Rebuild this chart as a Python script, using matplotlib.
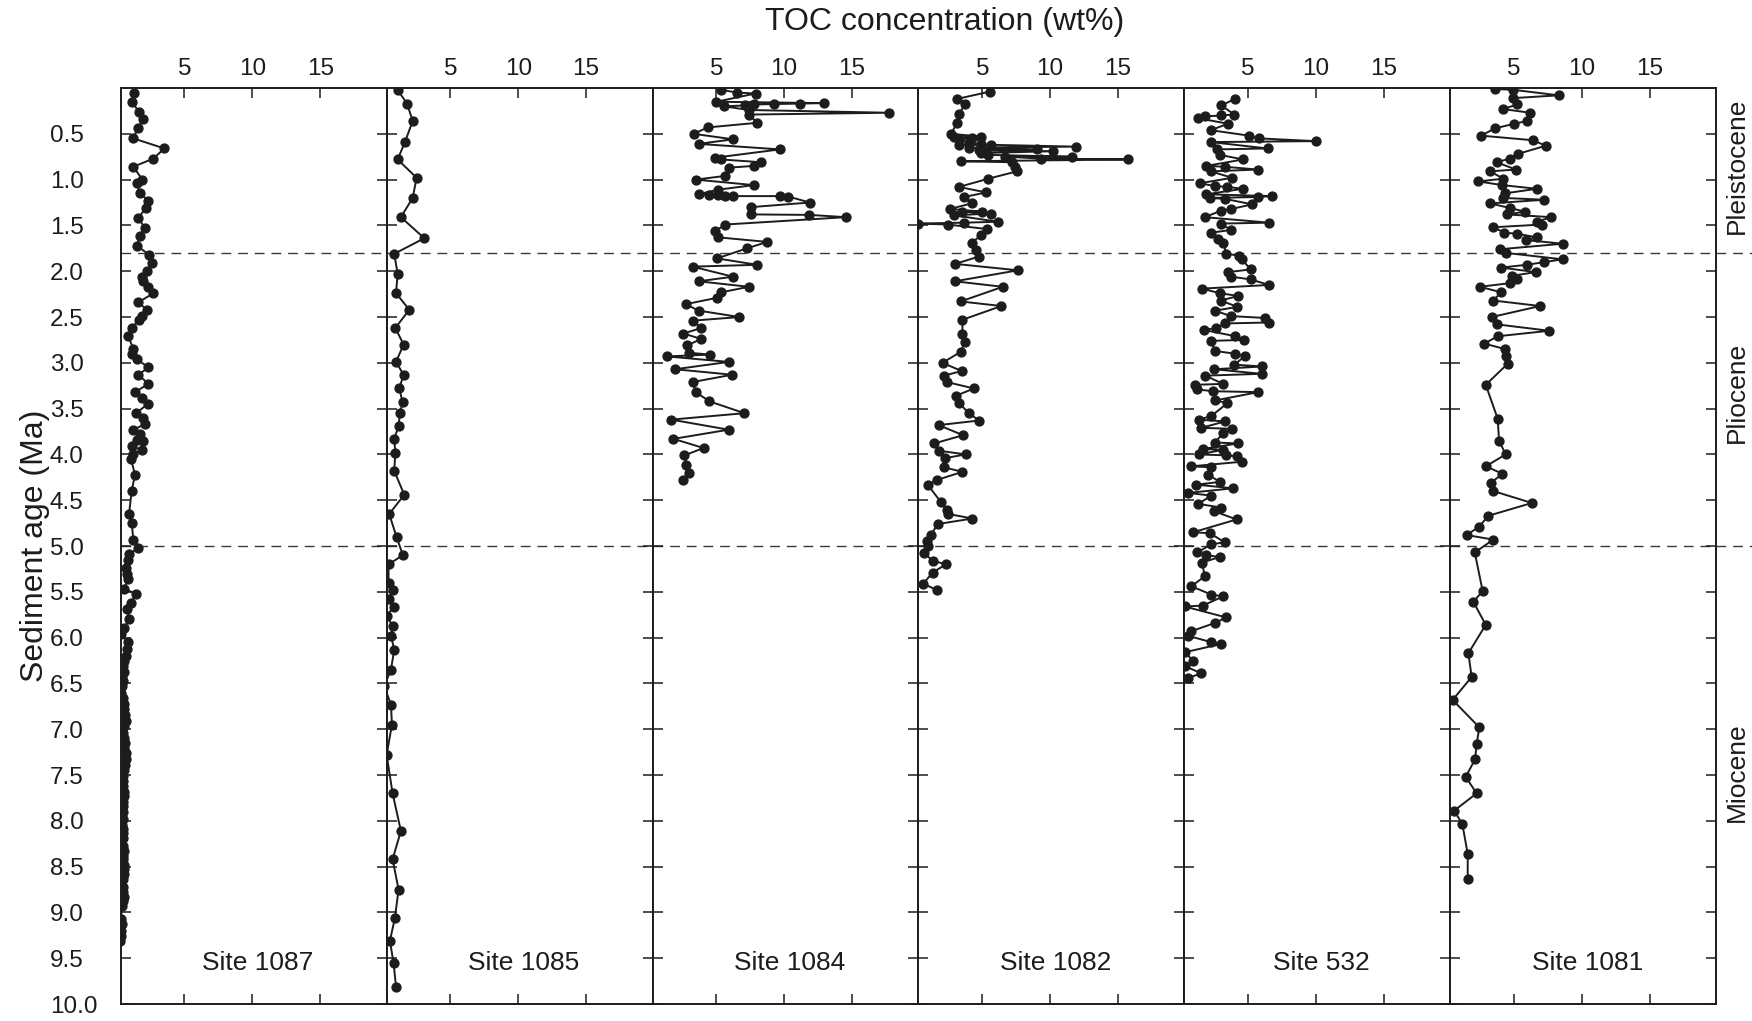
import matplotlib

matplotlib.use("Agg")
import matplotlib.pyplot as plt
import matplotlib.transforms as mtransforms
import numpy as np

plt.rcParams["font.family"] = ["Liberation Sans", "DejaVu Sans"]

# --- data: age (Ma) vs TOC (wt%) per site ---
sites = ["Site 1087", "Site 1085", "Site 1084", "Site 1082", "Site 532", "Site 1081"]

age_1087 = [0.05, 0.15, 0.26, 0.34, 0.44, 0.55, 0.66, 0.77, 0.86, 1.00,
            1.04, 1.15, 1.23, 1.31, 1.42, 1.53, 1.62, 1.72, 1.82, 1.91,
            2.00, 2.06, 2.11, 2.17, 2.24, 2.34, 2.42, 2.49, 2.53, 2.62,
            2.71, 2.85, 2.90, 2.96, 3.05, 3.13, 3.23, 3.32, 3.38, 3.45,
            3.55, 3.60, 3.67, 3.73, 3.78, 3.84, 3.85, 3.91, 3.95, 4.00,
            4.05, 4.22, 4.40, 4.65, 4.75, 4.93, 5.02, 5.09, 5.15, 5.24,
            5.30, 5.36, 5.47, 5.52, 5.62, 5.69, 5.80, 5.89, 5.96, 6.05,
            6.12,
            6.20, 6.26, 6.31, 6.37, 6.43, 6.47, 6.53, 6.60, 6.66, 6.72,
            6.78, 6.84, 6.91, 6.97, 7.04, 7.10, 7.15, 7.20, 7.26, 7.33,
            7.39, 7.45, 7.51, 7.57, 7.62, 7.68, 7.73, 7.79, 7.84, 7.90,
            7.98, 8.04, 8.09, 8.13, 8.19, 8.27, 8.33, 8.38, 8.42, 8.48,
            8.53, 8.58, 8.64, 8.72, 8.78, 8.83, 8.87, 8.93, 9.07, 9.13,
            9.20, 9.26, 9.31]
toc_1087 = [1.31, 1.11, 1.65, 1.97, 1.55, 1.23, 3.52, 2.71, 1.23, 1.90,
            1.48, 1.72, 2.34, 2.14, 1.60, 2.09, 1.72, 1.48, 2.39, 2.59,
            2.22, 1.90, 1.97, 2.29, 2.71, 1.60, 2.22, 1.85, 1.65, 1.11,
            0.86, 1.23, 1.11, 1.48, 2.34, 1.60, 2.34, 1.35, 1.85, 2.29,
            1.43, 1.97, 2.09, 1.23, 1.72, 1.48, 1.97, 1.11, 1.85, 1.23,
            1.06, 1.35, 1.11, 0.91, 1.11, 1.23, 1.60, 0.94, 0.81, 0.69,
            0.75, 0.81, 0.57, 1.43, 1.06, 0.76, 0.94, 0.57, 0.32, 0.81,
            0.75,
            0.69, 0.57, 0.45, 0.52, 0.40, 0.45, 0.36, 0.32, 0.45, 0.52,
            0.57, 0.62, 0.69, 0.57, 0.45, 0.52, 0.62, 0.57, 0.66, 0.69,
            0.62, 0.57, 0.50, 0.45, 0.45, 0.52, 0.57, 0.50, 0.45, 0.48,
            0.45, 0.42, 0.48, 0.45, 0.50, 0.45, 0.52, 0.48, 0.45, 0.52,
            0.57, 0.57, 0.50, 0.45, 0.48, 0.52, 0.45, 0.40, 0.32, 0.36,
            0.32, 0.30, 0.27]

age_1085 = [0.02, 0.17, 0.36, 0.59, 0.78, 0.98, 1.20, 1.41, 1.64, 1.81,
            2.03, 2.24, 2.42, 2.62, 2.80, 2.99, 3.13, 3.28, 3.43, 3.55,
            3.69, 3.83, 3.98, 4.18, 4.44, 4.65, 4.90, 5.10, 5.20, 5.40,
            5.48, 5.58, 5.67, 5.76, 5.87, 5.98, 6.13, 6.35, 6.53, 6.73,
            6.95, 7.28, 7.70, 8.11, 8.42, 8.75, 9.06, 9.31, 9.55, 9.81]
toc_1085 = [1.11, 1.80, 2.22, 1.65, 1.11, 2.51, 2.22, 1.35, 3.08, 0.86,
            1.11, 0.99, 1.97, 0.94, 1.55, 0.99, 1.55, 1.23, 1.48, 1.28,
            1.18, 0.86, 0.94, 0.86, 1.60, 0.49, 1.03, 1.50, 0.44, 0.44,
            0.74, 0.44, 0.81, 0.30, 0.74, 0.62, 0.86, 0.62, 0.12, 0.62,
            0.69, 0.30, 0.74, 1.35, 0.74, 1.18, 0.91, 0.54, 0.81, 0.99]

age_1084 = [0.02, 0.05, 0.06, 0.15, 0.165, 0.17, 0.175, 0.18, 0.19, 0.20,
            0.24, 0.27, 0.29, 0.38, 0.43, 0.50, 0.56, 0.61, 0.67, 0.76,
            0.78, 0.81, 0.85, 0.87, 0.96, 1.00, 1.06, 1.11, 1.16, 1.165,
            1.17, 1.175, 1.18, 1.18, 1.185, 1.25, 1.30, 1.38, 1.385, 1.41,
            1.49, 1.56, 1.63, 1.68, 1.75, 1.86, 1.93, 1.95, 2.06, 2.11,
            2.17, 2.23, 2.29, 2.36, 2.43, 2.50, 2.54, 2.62, 2.68, 2.74,
            2.81, 2.89, 2.91, 2.93, 2.99, 3.07, 3.13, 3.21, 3.32, 3.42,
            3.55, 3.62, 3.73, 3.83, 3.93, 4.01, 4.11, 4.20, 4.28]
toc_1084 = [5.37, 6.53, 7.89, 5.00, 12.95, 11.17, 9.25, 7.81, 7.15, 5.59,
            7.40, 17.69, 7.40, 8.01, 4.38, 3.32, 6.23, 3.69, 9.69, 4.93,
            5.37, 8.26, 7.77, 5.91, 5.62, 3.49, 7.77, 5.12, 3.69, 4.43,
            5.12, 5.67, 6.21, 9.67, 10.31, 11.89, 7.59, 7.59, 11.84, 14.56,
            5.67, 4.93, 5.12, 8.75, 7.27, 5.05, 8.01, 3.25, 6.23, 3.69,
            7.40, 5.37, 5.05, 2.75, 3.69, 6.70, 3.25, 3.89, 2.58, 3.89,
            2.83, 2.95, 4.56, 1.35, 5.91, 1.96, 6.16, 3.25, 3.49, 4.48,
            7.07, 1.67, 5.91, 1.84, 4.06, 2.65, 2.78, 2.95, 2.51]

age_1082 = [0.04, 0.12, 0.18, 0.28, 0.38, 0.50, 0.53, 0.54, 0.55, 0.56,
            0.60, 0.61, 0.62, 0.62, 0.64, 0.65, 0.67, 0.68, 0.69, 0.71,
            0.73, 0.75, 0.75, 0.77, 0.78, 0.80, 0.81, 0.86, 0.91, 0.99,
            1.08, 1.14, 1.19, 1.26, 1.32, 1.35, 1.35, 1.37, 1.39, 1.46,
            1.47, 1.48, 1.49, 1.54, 1.61, 1.69, 1.77, 1.84, 1.92, 1.99,
            2.11, 2.17, 2.33, 2.38, 2.53, 2.68, 2.77, 2.88, 3.00, 3.09,
            3.14, 3.21, 3.28, 3.36, 3.44, 3.55, 3.63, 3.68, 3.79, 3.88,
            3.96, 4.00, 4.04, 4.14, 4.19, 4.28, 4.33, 4.52, 4.61, 4.65,
            4.70, 4.76, 4.88, 4.94, 5.00, 5.08, 5.16, 5.20, 5.29, 5.41,
            5.48]
toc_1082 = [5.54, 3.12, 3.73, 3.29, 3.17, 2.68, 4.88, 2.93, 4.22, 3.29,
            4.02, 4.88, 3.29, 5.61, 11.90, 4.02, 9.02, 4.76, 10.24, 4.88,
            5.44, 11.59, 6.71, 9.34, 15.73, 3.41, 7.20, 7.44, 7.56, 5.44,
            3.29, 5.29, 3.66, 4.22, 2.61, 5.00, 3.54, 5.61, 2.93, 6.17,
            3.66, 0.24, 2.44, 5.37, 4.88, 4.22, 4.51, 4.76, 3.00, 7.63,
            2.98, 6.51, 3.41, 6.41, 3.54, 3.54, 3.73, 3.41, 2.07, 3.49,
            2.15, 2.39, 4.39, 3.05, 3.29, 4.02, 4.76, 1.78, 3.59, 1.46,
            1.83, 3.78, 2.27, 2.15, 3.54, 1.63, 0.98, 1.95, 2.39, 2.51,
            4.27, 1.71, 1.22, 0.90, 0.98, 0.73, 1.34, 2.32, 1.34, 0.66,
            1.63]

age_532 = [0.12, 0.19, 0.29, 0.30, 0.31, 0.33, 0.39, 0.46, 0.52, 0.55,
           0.58, 0.59, 0.66, 0.67, 0.73, 0.78, 0.85, 0.86, 0.89, 0.91,
           0.98, 1.04, 1.07, 1.08, 1.10, 1.16, 1.18, 1.19, 1.20, 1.21,
           1.27, 1.32, 1.34, 1.41, 1.47, 1.48, 1.55, 1.58, 1.65, 1.69,
           1.81, 1.83, 1.87, 1.98, 2.01, 2.06, 2.09, 2.15, 2.19, 2.24,
           2.27, 2.32, 2.39, 2.43, 2.49, 2.51, 2.56, 2.57, 2.62, 2.64,
           2.71, 2.75, 2.76, 2.87, 2.90, 2.93, 3.02, 3.04, 3.07, 3.12,
           3.14, 3.23, 3.24, 3.29, 3.31, 3.32, 3.41, 3.44, 3.58, 3.62,
           3.64, 3.71, 3.72, 3.77, 3.87, 3.88, 3.94, 3.95, 4.00, 4.01,
           4.02, 4.08, 4.13, 4.14, 4.22, 4.30, 4.33, 4.37, 4.42, 4.45,
           4.54, 4.58, 4.62, 4.71, 4.85, 4.86, 4.96, 4.98, 5.07, 5.10,
           5.12, 5.18, 5.33, 5.44, 5.53, 5.55, 5.65, 5.66, 5.78, 5.84,
           5.93, 5.98, 6.05, 6.07, 6.16, 6.25, 6.31, 6.39, 6.44]
toc_532 = [4.01, 3.03, 3.97, 2.98, 1.85, 1.31, 3.52, 2.24, 5.05, 5.79,
           9.98, 2.24, 6.43, 2.73, 2.91, 4.63, 1.92, 3.28, 5.69, 2.24,
           3.82, 1.43, 2.54, 3.47, 4.63, 1.92, 6.72, 5.74, 2.17, 3.28,
           5.30, 3.77, 2.98, 1.80, 6.53, 2.98, 3.72, 2.24, 2.78, 3.15,
           3.40, 4.31, 4.51, 5.20, 3.52, 3.77, 5.20, 6.53, 1.60, 2.91,
           4.26, 2.98, 4.21, 2.54, 3.72, 6.23, 6.53, 3.28, 2.66, 1.72,
           4.06, 4.70, 2.29, 2.54, 4.01, 4.75, 3.97, 6.04, 2.49, 5.99,
           1.85, 3.15, 1.06, 1.23, 2.41, 5.74, 2.59, 3.47, 2.29, 1.38,
           3.28, 1.55, 3.82, 3.15, 2.54, 4.26, 1.67, 3.15, 1.35, 3.40,
           4.14, 4.51, 0.81, 2.29, 2.04, 2.91, 1.18, 3.89, 0.57, 2.29,
           1.31, 3.03, 2.49, 4.14, 0.94, 2.17, 3.28, 2.29, 1.26, 1.92,
           2.91, 1.60, 1.80, 0.81, 2.29, 3.15, 1.67, 0.32, 3.40, 2.54,
           0.81, 0.57, 2.29, 2.98, 0.32, 0.94, 0.32, 1.55, 0.57]

age_1081 = [0.01, 0.02, 0.08, 0.11, 0.18, 0.23, 0.27, 0.36, 0.39, 0.44,
            0.52, 0.57, 0.63, 0.72, 0.77, 0.81, 0.89, 0.91, 0.99, 1.02,
            1.06, 1.10, 1.15, 1.20, 1.22, 1.26, 1.31, 1.35, 1.38, 1.41,
            1.46, 1.49, 1.52, 1.58, 1.59, 1.63, 1.66, 1.70, 1.76, 1.80,
            1.87, 1.90, 1.93, 1.96, 2.01, 2.05, 2.09, 2.13, 2.17, 2.23,
            2.32, 2.38, 2.50, 2.58, 2.65, 2.71, 2.79, 2.85, 2.93, 3.01,
            3.24, 3.61, 3.85, 4.00, 4.13, 4.21, 4.31, 4.40, 4.53, 4.67,
            4.79, 4.88, 4.93, 5.07, 5.49, 5.61, 5.86, 6.17, 6.43, 6.68,
            6.98, 7.16, 7.33, 7.52, 7.70, 7.89, 8.03, 8.36, 8.63]
toc_1081 = [3.60, 4.95, 8.28, 4.95, 5.20, 4.21, 6.18, 5.94, 5.02, 3.60,
            2.56, 6.38, 7.34, 5.27, 4.70, 3.72, 5.12, 3.23, 4.21, 2.36,
            4.14, 6.67, 4.33, 4.21, 7.24, 3.23, 4.70, 5.81, 4.46, 7.73,
            6.67, 7.09, 3.47, 4.29, 5.20, 6.67, 5.86, 8.60, 3.97, 4.38,
            8.57, 7.24, 5.94, 4.04, 6.60, 4.83, 5.20, 4.70, 2.49, 4.04,
            3.47, 6.92, 3.35, 3.72, 7.59, 3.79, 2.81, 4.33, 4.38, 4.53,
            2.91, 3.79, 3.89, 4.38, 2.91, 4.14, 3.30, 3.47, 6.31, 3.10,
            2.41, 1.50, 3.47, 2.10, 2.68, 2.00, 2.91, 1.63, 1.87, 0.47,
            2.44, 2.24, 2.12, 1.43, 2.24, 0.57, 1.18, 1.58, 1.58]

ages = [age_1087, age_1085, age_1084, age_1082, age_532, age_1081]
tocs = [toc_1087, toc_1085, toc_1084, toc_1082, toc_532, toc_1081]

epoch_bounds = [1.8, 5.0]
epoch_names = ["Pleistocene", "Pliocene", "Miocene"]
epoch_label_y = [0.85, 3.32, 7.47]

x_ticks = [5, 10, 15]
y_ticks = np.arange(0.5, 10.01, 0.5)
y_tick_labels = [f"{v:.1f}" for v in y_ticks]

ink = "#1c1c1c"

fig = plt.figure(figsize=(17.52, 10.21), dpi=100)
axes = fig.subplots(1, 6, sharey=True)
fig.subplots_adjust(left=0.0689, right=0.9796, top=0.9138, bottom=0.0166, wspace=0)

for ax, site, age, toc in zip(axes, sites, ages, tocs):
    ax.plot(toc, age, color=ink, linewidth=1.4, marker="o", markersize=6.4,
            markerfacecolor=ink, markeredgecolor=ink, zorder=3)
    for yb in epoch_bounds:
        ax.axhline(yb, color="#3a3a3a", linewidth=1.0, dashes=(7, 5), zorder=1)
    ax.set_xlim(0.3, 19.9)
    ax.set_ylim(10, 0)
    ax.set_xticks(x_ticks)
    ax.tick_params(direction="in", top=True, bottom=True, left=True, right=True,
                   labeltop=True, labelbottom=False, length=7, width=1.1,
                   labelsize=17.5, colors=ink, pad=6)
    for sp in ax.spines.values():
        sp.set_linewidth(1.4)
        sp.set_color(ink)
    ax.text(0.515, 9.55, site, transform=mtransforms.blended_transform_factory(ax.transAxes, ax.transData),
            ha="center", va="center", fontsize=19, color=ink)

# y tick labels sit flush left in the original
axes[0].set_yticks(y_ticks, y_tick_labels, ha="left")
axes[0].tick_params(axis="y", pad=51)
axes[0].set_ylabel("Sediment age (Ma)", fontsize=23, color=ink)
axes[0].yaxis.set_label_coords(-0.265, 0.5)

# dashed epoch boundaries run on past the last panel
for yb in epoch_bounds:
    axes[-1].axhline(yb, xmin=1.0, xmax=1.14, color="#3a3a3a", linewidth=1.0,
                     dashes=(7, 5), clip_on=False)

trans = mtransforms.blended_transform_factory(fig.transFigure, axes[-1].transData)
for name, yl in zip(epoch_names, epoch_label_y):
    fig.text(0.9915, yl, name, transform=trans, rotation=90, ha="center", va="center",
             fontsize=19, color=ink)

fig.text(0.539, 0.978, "TOC concentration (wt%)", ha="center", va="center", fontsize=23, color=ink)

fig.savefig("out.png", dpi=100)
